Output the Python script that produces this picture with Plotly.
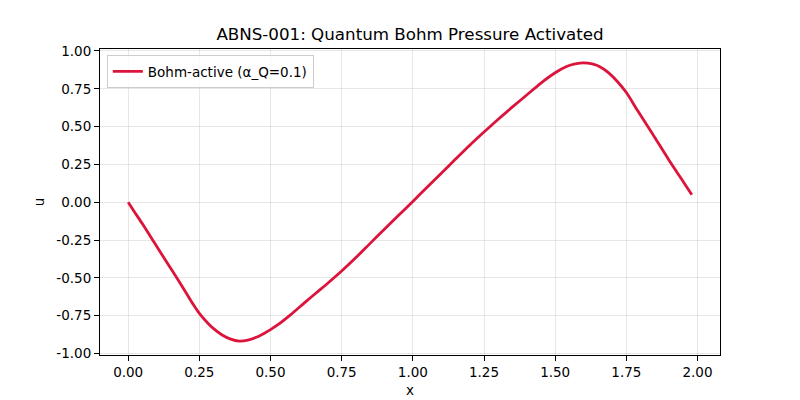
import plotly.graph_objects as go

# Values
x_vals = [0.00, 0.02, 0.05, 0.09, 0.12, 0.16, 0.20, 0.23, 0.25, 0.28, 0.30, 0.33,
          0.36, 0.39, 0.42, 0.45, 0.48, 0.50, 0.53, 0.57, 0.62, 0.66, 0.70, 0.75,
          0.80, 0.85, 0.90, 0.95, 1.00, 1.05, 1.10, 1.15, 1.20, 1.25, 1.30, 1.35,
          1.40, 1.45, 1.50, 1.54, 1.57, 1.60, 1.63, 1.66, 1.69, 1.72, 1.75, 1.79,
          1.84, 1.90, 1.95, 1.98]
u_vals = [0.000, -0.058, -0.143, -0.262, -0.350, -0.468, -0.588, -0.680, -0.735,
          -0.800, -0.836, -0.878, -0.905, -0.918, -0.912, -0.893, -0.864, -0.842,
          -0.805, -0.745, -0.664, -0.600, -0.537, -0.455, -0.366, -0.272, -0.179,
          -0.086, 0.005, 0.099, 0.192, 0.285, 0.377, 0.464, 0.549, 0.630, 0.709,
          0.788, 0.856, 0.897, 0.914, 0.921, 0.914, 0.893, 0.852, 0.795, 0.725,
          0.604, 0.458, 0.278, 0.136, 0.050]

x_ticks = [0.00, 0.25, 0.50, 0.75, 1.00, 1.25, 1.50, 1.75, 2.00]
y_ticks = [-1.00, -0.75, -0.50, -0.25, 0.00, 0.25, 0.50, 0.75, 1.00]
series_name = "Bohm-active (α_Q=0.1)"
title_text = "ABNS-001: Quantum Bohm Pressure Activated"

FONT = "DejaVu Sans"
fig = go.Figure()
fig.add_trace(go.Scatter(
    x=x_vals, y=u_vals, mode="lines", name=series_name,
    line=dict(color="#DC143C", width=2.8, shape="spline", smoothing=0.8),
))

axis_common = dict(
    showline=True, linecolor="black", linewidth=1, mirror=True,
    ticks="outside", ticklen=5, tickwidth=1, tickcolor="black",
    showgrid=True, gridcolor="rgba(176,176,176,0.3)", gridwidth=1,
    zeroline=False, automargin=False,
    tickfont=dict(family=FONT, size=13.5, color="black"),
)

# page body adds an 8px offset, so the figure is 8px smaller and margins shifted
fig.update_layout(
    width=792, height=392,
    margin=dict(l=92, r=80, t=41, b=45),
    paper_bgcolor="white", plot_bgcolor="white",
    font=dict(family=FONT, size=13.5, color="black"),
    title=dict(text=title_text, x=0.5076, xanchor="center", y=0.934, yanchor="middle",
               font=dict(family=FONT, size=16.7, color="black")),
    xaxis=dict(range=[-0.099, 2.079], tickvals=x_ticks,
               ticktext=[f"{v:.2f}" for v in x_ticks],
               title=dict(text="x", standoff=6, font=dict(family=FONT, size=13.5)),
               **axis_common),
    yaxis=dict(range=[-1.010, 1.013], tickvals=y_ticks,
               ticktext=[f"{v:.2f}" for v in y_ticks],
               title=dict(text="u", standoff=8, font=dict(family=FONT, size=13.5)),
               **axis_common),
    showlegend=True,
    legend=dict(x=0.011, y=0.980, xanchor="left", yanchor="top",
                bgcolor="rgba(255,255,255,0.8)", bordercolor="#cccccc", borderwidth=1,
                font=dict(family=FONT, size=13.5, color="black")),
)

fig.write_html("out.html")
